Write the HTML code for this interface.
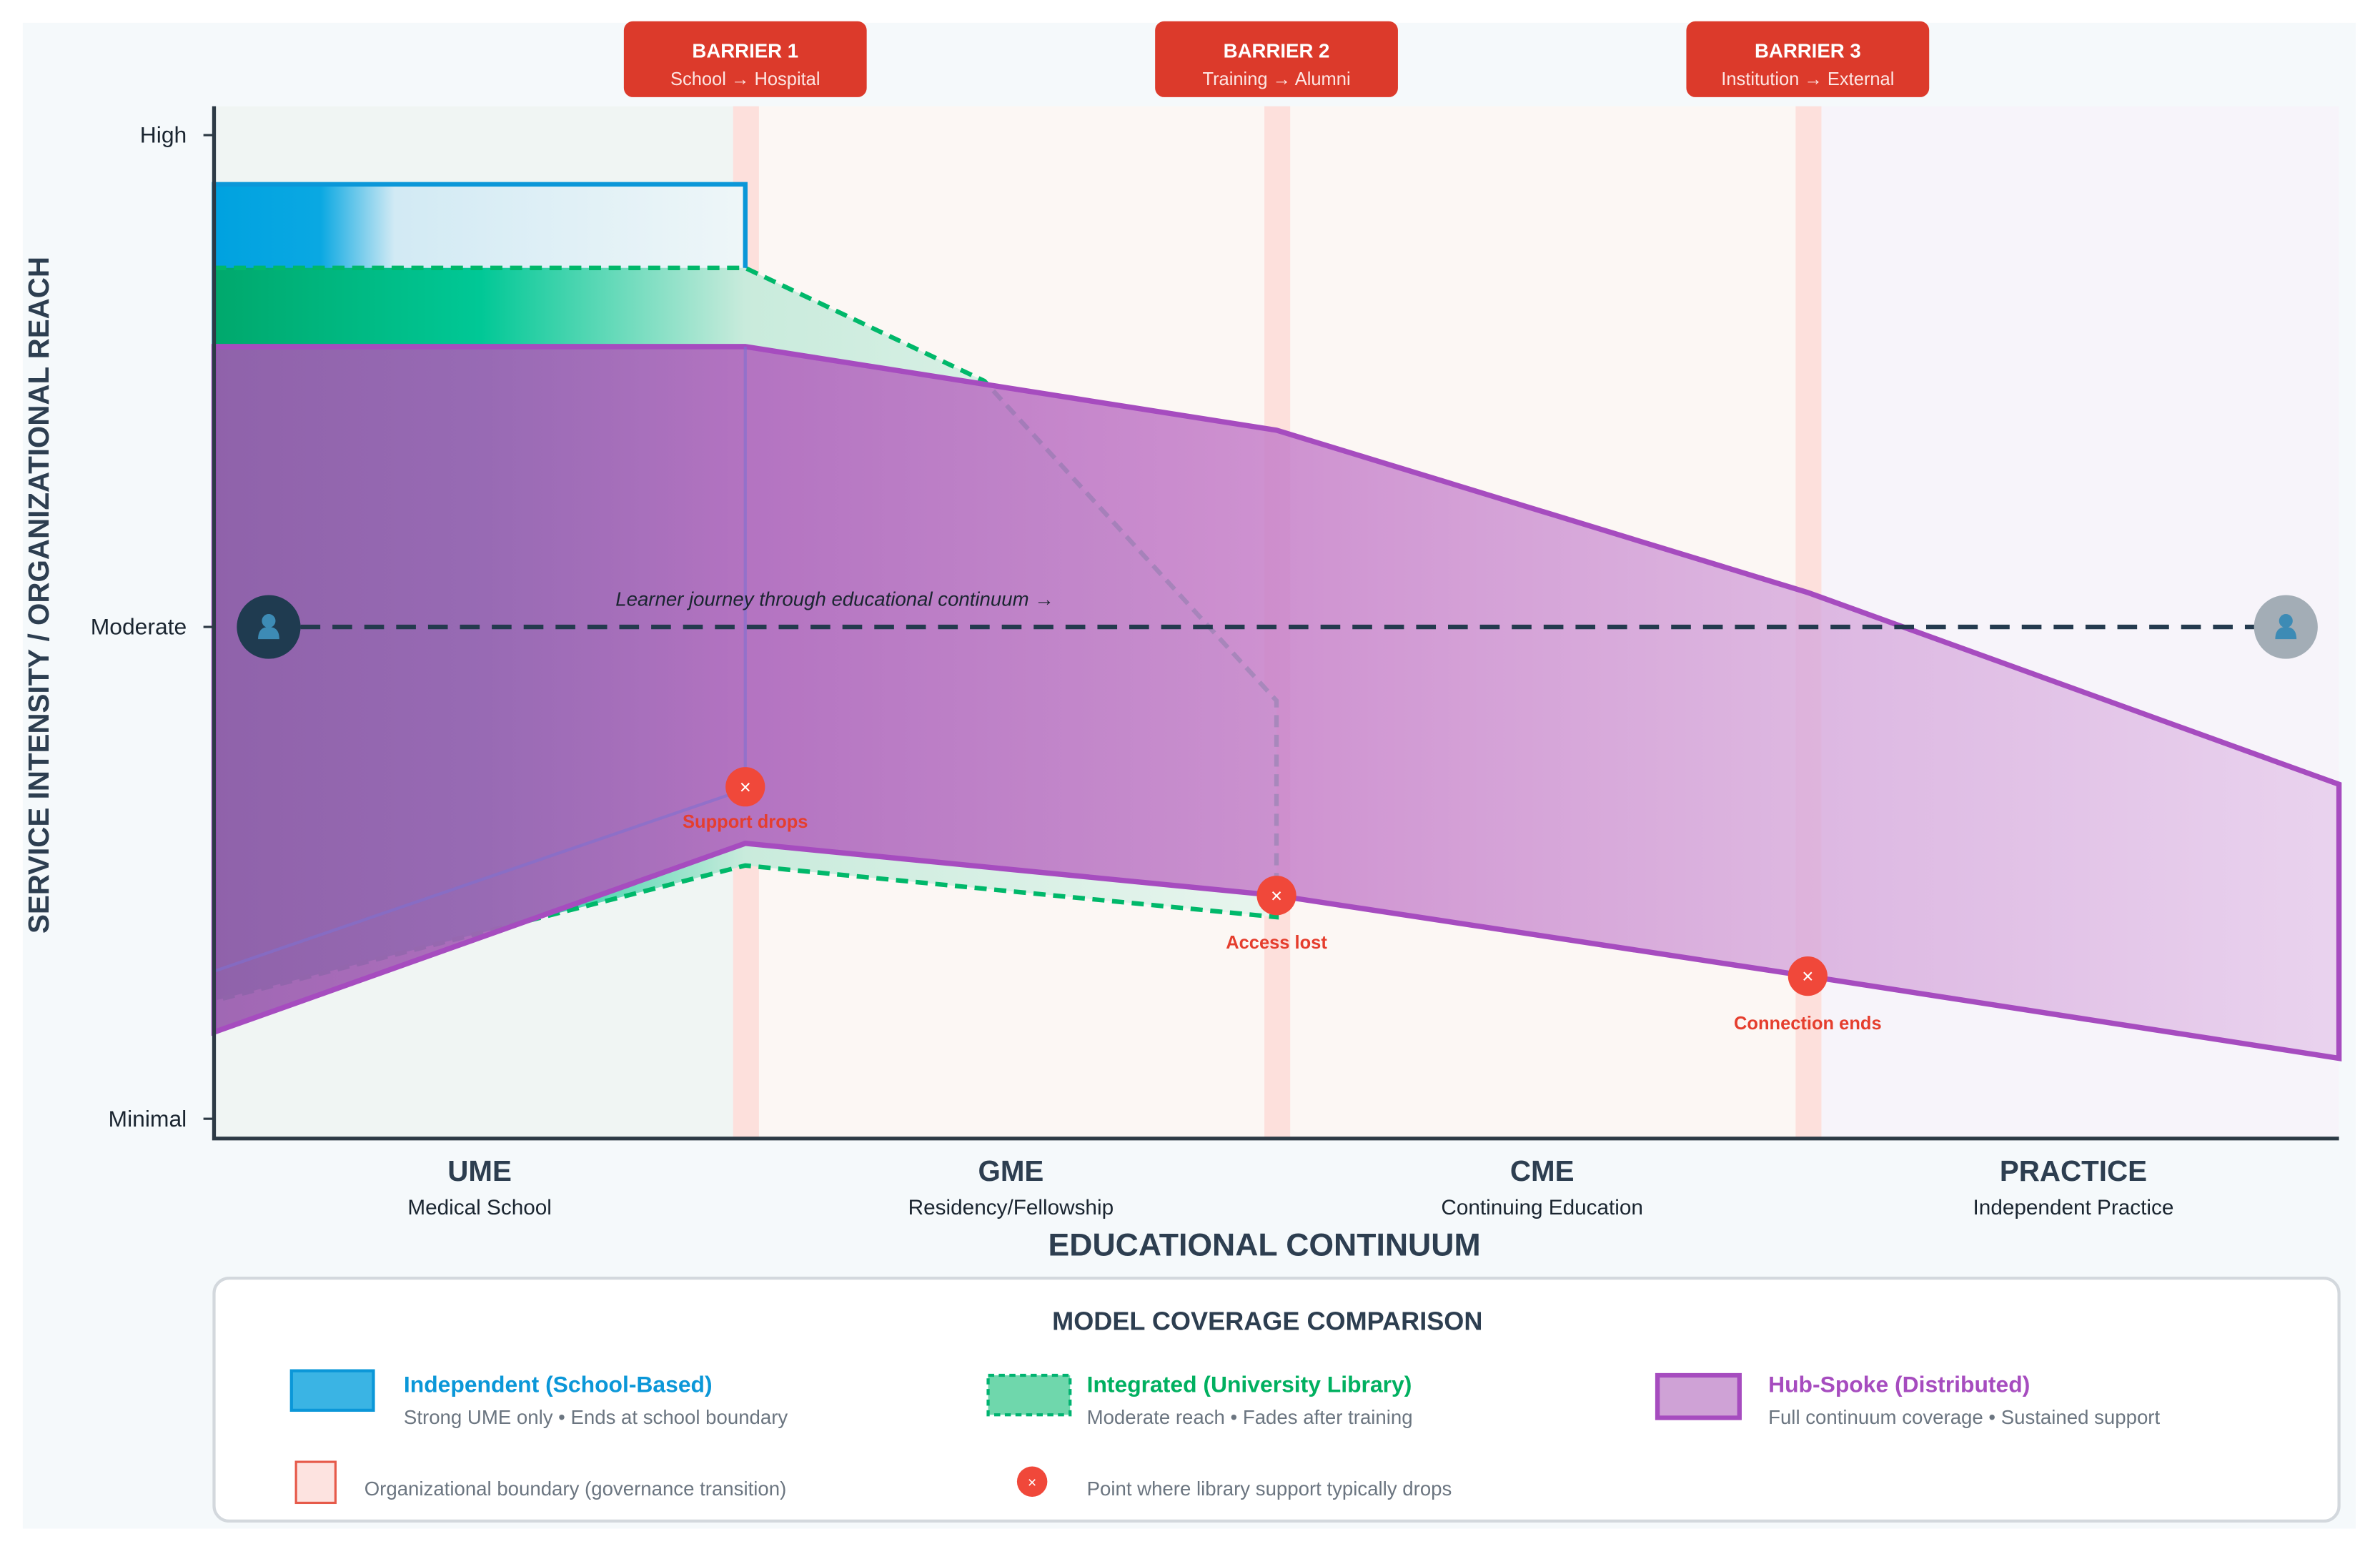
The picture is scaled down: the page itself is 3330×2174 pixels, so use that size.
<!DOCTYPE html>
<html><head><meta charset="utf-8"><style>
html,body{margin:0;padding:0;background:#fff;}
svg{display:block;font-family:"Liberation Sans",Arial,sans-serif;}
</style></head><body>
<svg id="chart" width="3330" height="2174" viewBox="0 0 1568 1023.7" xmlns="http://www.w3.org/2000/svg">
<defs>
<linearGradient id="gBlue" gradientUnits="userSpaceOnUse" x1="141" y1="0" x2="491" y2="0">
<stop offset="0" stop-color="#00a2e0"/><stop offset="0.2" stop-color="#0aa8e2"/><stop offset="0.34" stop-color="#d2eaf4"/><stop offset="1" stop-color="#eef6f8"/></linearGradient>
<linearGradient id="gGreen" gradientUnits="userSpaceOnUse" x1="141" y1="0" x2="841" y2="0">
<stop offset="0" stop-color="#00a86c"/><stop offset="0.25" stop-color="#00c896"/><stop offset="0.5" stop-color="#c9ebdc"/><stop offset="1" stop-color="#e8f5ee"/></linearGradient>
<linearGradient id="gPurple" gradientUnits="userSpaceOnUse" x1="141" y1="0" x2="1541" y2="0">
<stop offset="0" stop-color="#9a5daf" stop-opacity="0.93"/><stop offset="0.25" stop-color="#b166be" stop-opacity="0.9"/><stop offset="0.5" stop-color="#c680ca" stop-opacity="0.85"/><stop offset="0.75" stop-color="#d6a8dc" stop-opacity="0.8"/><stop offset="1" stop-color="#e7cdec" stop-opacity="0.85"/></linearGradient>
</defs>
<rect x="15" y="15" width="1537" height="992" fill="#f5f9fb"/>
<g id="plot"></g>
<g id="axes"></g>
<g>
<rect x="141" y="842" width="1400" height="160" rx="10" fill="#fff" stroke="#d3d8dd" stroke-width="2"/>
<text x="835" y="876" text-anchor="middle" font-size="17" font-weight="bold" fill="#2d3e50">MODEL COVERAGE COMPARISON</text>
<g>
<rect x="192" y="903" width="54" height="26" fill="#3ab4e4" stroke="#0b97d8" stroke-width="2"/>
<text x="266" y="917" font-size="15" font-weight="bold" fill="#0b97d8">Independent (School-Based)</text>
<text x="266" y="938" font-size="13" fill="#6b7580">Strong UME only • Ends at school boundary</text></g>
<g>
<rect x="651" y="906" width="54" height="26" fill="#6fd7ac" stroke="#00b370" stroke-width="2" stroke-dasharray="4 3"/>
<text x="716" y="917" font-size="15" font-weight="bold" fill="#00b060">Integrated (University Library)</text>
<text x="716" y="938" font-size="13" fill="#6b7580">Moderate reach • Fades after training</text></g>
<g>
<rect x="1092" y="906" width="54" height="28" fill="#cfa2d6" stroke="#a64cbf" stroke-width="3"/>
<text x="1165" y="917" font-size="15" font-weight="bold" fill="#a64cbf">Hub-Spoke (Distributed)</text>
<text x="1165" y="938" font-size="13" fill="#6b7580">Full continuum coverage • Sustained support</text></g>
<g>
<rect x="195" y="963" width="26" height="27" fill="#fde3e0" stroke="#e65a4a" stroke-width="1.5"/>
<text x="240" y="985" font-size="13" fill="#6b7580">Organizational boundary (governance transition)</text></g>
<g>
<circle cx="680" cy="976" r="10" fill="#f0483a"/><text x="680" y="980" text-anchor="middle" font-size="10" fill="#fff">×</text>
<text x="716" y="985" font-size="13" fill="#6b7580">Point where library support typically drops</text></g>
</g>
</svg>
<script>
// stage categories and data values (intensity: 0=Minimal,1=Moderate,2=High)
const stages = ["UME","GME","CME","PRACTICE"];
const stageSubs = ["Medical School","Residency/Fellowship","Continuing Education","Independent Practice"];
const boundaryPts = [0,1,2,3,4];
const yTickLabels = ["Minimal","Moderate","High"];
const yTickValues = [0,1,2];
const blueTop = [1.9,1.9];
const blueBottom = [0.3,0.67];
const greenTopX = [0,1,1.45,2];
const greenTop = [1.73,1.73,1.5,0.85];
const greenBottomX = [0,1,2];
const greenBottom = [0.24,0.515,0.41];
const purpleTop = [1.57,1.57,1.4,1.07,0.68];
const purpleBottom = [0.176,0.56,0.454,0.29,0.123];
const dropX = [1,2,3];
const dropY = [0.675,0.454,0.29];
const dropLabels = ["Support drops","Access lost","Connection ends"];
const barrierTitles = ["BARRIER 1","BARRIER 2","BARRIER 3"];
const barrierSubs = ["School → Hospital","Training → Alumni","Institution → External"];
const journeyLevel = 1;

const NS="http://www.w3.org/2000/svg";
const X0=141, XW=350, Y0=737, YU=324;
const xs=v=>X0+v*XW, ys=v=>Y0-v*YU;
function mk(tag,attrs,parent,txt){const e=document.createElementNS(NS,tag);for(const k in attrs)e.setAttribute(k,attrs[k]);if(txt!==undefined)e.textContent=txt;parent.appendChild(e);return e;}
const plot=document.getElementById('plot'), axes=document.getElementById('axes');
const colFill=["#f0f5f3","#fcf7f4","#fcf7f4","#f7f4fa"];
stages.forEach((s,i)=>{
  const r=mk('rect',{x:xs(i),y:70,width:XW,height:680,fill:colFill[i]},plot);
  
  
});
[1,2,3].forEach((b,i)=>{
  const r=mk('rect',{x:xs(b)-8,y:70,width:17,height:680,fill:"#fde0dc"},plot);
  
  
});
const bp=`${xs(0)},${ys(blueTop[0])} ${xs(1)},${ys(blueTop[1])} ${xs(1)},${ys(blueBottom[1])} ${xs(0)},${ys(blueBottom[0])}`;
const blue=mk('polygon',{points:bp,fill:"url(#gBlue)",stroke:"#0b97d8","stroke-width":3},plot);


let gp=greenTopX.map((x,i)=>`${xs(x)},${ys(greenTop[i])}`);
let gb=greenBottomX.map((x,i)=>`${xs(x)},${ys(greenBottom[i])}`).reverse();
const green=mk('polygon',{points:gp.concat(gb).join(' '),fill:"url(#gGreen)",stroke:"none"},plot);


const gl=mk('polyline',{points:gp.concat(gb).join(' '),fill:"none",stroke:"#00b86a","stroke-width":3,"stroke-dasharray":"8 5"},plot);


const pt=boundaryPts.map((x,i)=>`${xs(x)},${ys(purpleTop[i])}`);
const pb=boundaryPts.map((x,i)=>`${xs(x)},${ys(purpleBottom[i])}`).reverse();
const purple=mk('polygon',{points:pt.concat(pb).join(' '),fill:"url(#gPurple)",stroke:"#a64cbf","stroke-width":3.5,"stroke-linejoin":"miter"},plot);


const bo=mk('polyline',{points:`${xs(1)},${ys(purpleTop[1])} ${xs(1)},${ys(blueBottom[1])} ${xs(0)},${ys(blueBottom[0])}`,fill:"none",stroke:"#7f6fd0","stroke-width":2,"stroke-opacity":0.6},plot);


const jy=ys(journeyLevel);
const jl=mk('line',{x1:177,y1:jy,x2:1506,y2:jy,stroke:"#243a4e","stroke-width":3,"stroke-dasharray":"13 8"},plot);


const jt=mk('text',{x:550,y:jy-14,"text-anchor":"middle","font-size":13,"font-style":"italic",fill:"#1a2530"},plot,"Learner journey through educational continuum →");


[[177,"#1f3b50"],[1506,"#a3adb6"]].forEach((c,i)=>{
  const g=mk('g',{},plot);
  
  
  mk('circle',{cx:c[0],cy:jy,r:21,fill:c[1]},g);
  mk('circle',{cx:c[0],cy:jy-4,r:4.5,fill:"#3d8bb5"},g);
  mk('path',{d:`M${c[0]-7},${jy+8} q0,-8 7,-8 q7,0 7,8 z`,fill:"#3d8bb5"},g);
});
dropX.forEach((x,i)=>{
  const g=mk('g',{},plot);
  
  
  mk('circle',{cx:xs(x),cy:ys(dropY[i]),r:13,fill:"#f0483a"},g);
  mk('text',{x:xs(x),y:ys(dropY[i])+4.5,"text-anchor":"middle","font-size":13,fill:"#fff"},g,"×");
  mk('text',{x:xs(x),y:ys(dropY[i])+(i===0?27:35),"text-anchor":"middle","font-size":12,"font-weight":"bold",fill:"#e53e2e"},g,dropLabels[i]);
});
[1,2,3].forEach((b,i)=>{
  const g=mk('g',{},plot);
  
  
  mk('rect',{x:xs(b)-80,y:14,width:160,height:50,rx:6,fill:"#dc3a2b"},g);
  mk('text',{x:xs(b),y:38,"text-anchor":"middle","font-size":13,"font-weight":"bold",fill:"#fff"},g,barrierTitles[i]);
  mk('text',{x:xs(b),y:56,"text-anchor":"middle","font-size":12,fill:"#fde6e3"},g,barrierSubs[i]);
});
const ya=mk('path',{d:"M141,70 V750 H1541",fill:"none",stroke:"#2d3a45","stroke-width":2.5},axes);


yTickValues.forEach((v,i)=>{
  const yy=v===2?89:ys(v);
  mk('line',{x1:134,y1:yy,x2:141,y2:yy,stroke:"#2d3a45","stroke-width":1.5},axes);
  const t=mk('text',{x:123,y:yy+5,"text-anchor":"end","font-size":15,fill:"#1a2530"},axes,yTickLabels[i]);
  
  
});
const yt=mk('text',{x:0,y:0,transform:"translate(32,392) rotate(-90)","text-anchor":"middle","font-size":19,"font-weight":"bold",fill:"#2d3e50"},axes,"SERVICE INTENSITY / ORGANIZATIONAL REACH");


stages.forEach((s,i)=>{
  const t=mk('text',{x:xs(i+0.5),y:778,"text-anchor":"middle","font-size":19,"font-weight":"bold",fill:"#2d3e50"},axes,s);
  
  
  const u=mk('text',{x:xs(i+0.5),y:800,"text-anchor":"middle","font-size":14,fill:"#1a2530"},axes,stageSubs[i]);
  
  
});
const xt=mk('text',{x:833,y:827,"text-anchor":"middle","font-size":21,"font-weight":"bold",fill:"#2d3e50"},axes,"EDUCATIONAL CONTINUUM");


</script>
</body></html>
